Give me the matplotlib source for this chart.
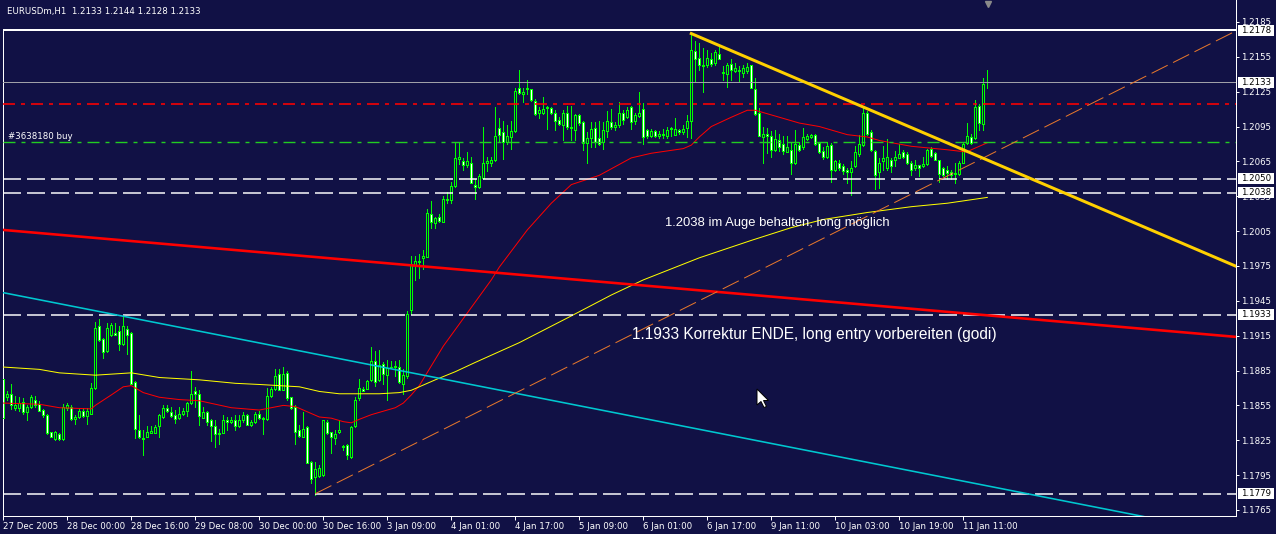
import matplotlib
matplotlib.use("Agg")
import matplotlib.pyplot as plt
from matplotlib.patches import Polygon, Rectangle
from matplotlib.transforms import IdentityTransform
import numpy as np

BG = "#111145"
LIME = "#00ff00"
PX = 0.72  # one screen pixel in points at 100 dpi

plt.rcParams["lines.scale_dashes"] = False
plt.rcParams["font.family"] = ["DejaVu Sans"]

# EURUSDm H1 candles, 27 Dec 2005 08:00 .. 11 Jan 2006 17:00
opens = [
    1.1878, 1.1862, 1.1865, 1.1853, 1.1853, 1.1858, 1.1849, 1.1854, 1.1860, 1.1856,
    1.1851, 1.1847, 1.1832, 1.1826, 1.1830, 1.1826, 1.1853, 1.1854, 1.1843, 1.1845,
    1.1850, 1.1846, 1.1848, 1.1870, 1.1923, 1.1912, 1.1902, 1.1916, 1.1917, 1.1919,
    1.1908, 1.1921, 1.1917, 1.1875, 1.1834, 1.1827, 1.1828, 1.1831, 1.1831, 1.1837,
    1.1845, 1.1853, 1.1849, 1.1847, 1.1844, 1.1848, 1.1850, 1.1857, 1.1867, 1.1865,
    1.1844, 1.1849, 1.1842, 1.1837, 1.1830, 1.1831, 1.1842, 1.1841, 1.1842, 1.1837,
    1.1842, 1.1847, 1.1838, 1.1841, 1.1848, 1.1843, 1.1843, 1.1863, 1.1869, 1.1882,
    1.1868, 1.1883, 1.1862, 1.1854, 1.1834, 1.1828, 1.1836, 1.1806, 1.1793, 1.1794,
    1.1795, 1.1841, 1.1832, 1.1827, 1.1832, 1.1820, 1.1821, 1.1811, 1.1837, 1.1861,
    1.1869, 1.1869, 1.1877, 1.1893, 1.1877, 1.1891, 1.1881, 1.1888, 1.1888, 1.1888,
    1.1873, 1.1880, 1.1937, 1.1976, 1.1978, 1.1982, 1.1983, 1.2020, 1.2012, 1.2017,
    1.2013, 1.2033, 1.2032, 1.2044, 1.2067, 1.2065, 1.2062, 1.2064, 1.2045, 1.2043,
    1.2051, 1.2064, 1.2064, 1.2066, 1.2094, 1.2090, 1.2082, 1.2086, 1.2091, 1.2128,
    1.2123, 1.2127, 1.2127, 1.2117, 1.2107, 1.2107, 1.2111, 1.2111, 1.2107, 1.2101,
    1.2096, 1.2107, 1.2095, 1.2092, 1.2105, 1.2099, 1.2081, 1.2085, 1.2094, 1.2085,
    1.2082, 1.2091, 1.2099, 1.2095, 1.2096, 1.2107, 1.2103, 1.2112, 1.2100, 1.2104,
    1.2110, 1.2092, 1.2087, 1.2091, 1.2087, 1.2089, 1.2087, 1.2093, 1.2088, 1.2092,
    1.2090, 1.2094, 1.2100, 1.2160, 1.2154, 1.2147, 1.2148, 1.2153, 1.2150, 1.2157,
    1.2141, 1.2140, 1.2149, 1.2143, 1.2144, 1.2141, 1.2143, 1.2148, 1.2127, 1.2107,
    1.2086, 1.2089, 1.2087, 1.2075, 1.2083, 1.2080, 1.2073, 1.2075, 1.2064, 1.2079,
    1.2077, 1.2084, 1.2086, 1.2088, 1.2081, 1.2074, 1.2069, 1.2079, 1.2058, 1.2064,
    1.2061, 1.2058, 1.2056, 1.2061, 1.2071, 1.2079, 1.2107, 1.2090, 1.2074, 1.2056,
    1.2065, 1.2059, 1.2066, 1.2066, 1.2068, 1.2073, 1.2071, 1.2064, 1.2059, 1.2062,
    1.2061, 1.2063, 1.2076, 1.2072, 1.2066, 1.2059, 1.2058, 1.2056, 1.2055, 1.2054,
    1.2064, 1.2081, 1.2086, 1.2085, 1.2113, 1.2097, 1.2133,
]
highs = [
    1.1880, 1.1867, 1.1873, 1.1863, 1.1862, 1.1861, 1.1855, 1.1864, 1.1863, 1.1859,
    1.1852, 1.1848, 1.1832, 1.1833, 1.1831, 1.1856, 1.1857, 1.1855, 1.1847, 1.1852,
    1.1853, 1.1853, 1.1874, 1.1927, 1.1929, 1.1913, 1.1926, 1.1926, 1.1926, 1.1923,
    1.1932, 1.1923, 1.1918, 1.1876, 1.1847, 1.1834, 1.1837, 1.1837, 1.1838, 1.1848,
    1.1855, 1.1855, 1.1854, 1.1851, 1.1854, 1.1853, 1.1858, 1.1885, 1.1871, 1.1868,
    1.1854, 1.1850, 1.1843, 1.1842, 1.1835, 1.1847, 1.1845, 1.1845, 1.1847, 1.1847,
    1.1849, 1.1848, 1.1842, 1.1849, 1.1850, 1.1845, 1.1870, 1.1871, 1.1886, 1.1886,
    1.1888, 1.1885, 1.1862, 1.1855, 1.1838, 1.1849, 1.1837, 1.1807, 1.1806, 1.1804,
    1.1842, 1.1842, 1.1832, 1.1834, 1.1842, 1.1821, 1.1822, 1.1837, 1.1862, 1.1878,
    1.1871, 1.1877, 1.1905, 1.1902, 1.1903, 1.1892, 1.1894, 1.1893, 1.1893, 1.1894,
    1.1886, 1.1936, 1.1984, 1.1984, 1.1985, 1.1989, 1.2024, 1.2031, 1.2017, 1.2020,
    1.2035, 1.2039, 1.2047, 1.2082, 1.2082, 1.2068, 1.2073, 1.2069, 1.2050, 1.2054,
    1.2095, 1.2069, 1.2069, 1.2112, 1.2102, 1.2100, 1.2096, 1.2100, 1.2128, 1.2144,
    1.2128, 1.2135, 1.2127, 1.2119, 1.2112, 1.2120, 1.2113, 1.2112, 1.2109, 1.2103,
    1.2109, 1.2113, 1.2113, 1.2106, 1.2106, 1.2100, 1.2090, 1.2099, 1.2099, 1.2100,
    1.2099, 1.2108, 1.2110, 1.2099, 1.2116, 1.2109, 1.2112, 1.2113, 1.2107, 1.2125,
    1.2115, 1.2093, 1.2093, 1.2092, 1.2091, 1.2093, 1.2095, 1.2095, 1.2102, 1.2093,
    1.2096, 1.2105, 1.2175, 1.2169, 1.2167, 1.2163, 1.2161, 1.2158, 1.2161, 1.2164,
    1.2147, 1.2150, 1.2153, 1.2150, 1.2147, 1.2148, 1.2150, 1.2148, 1.2137, 1.2111,
    1.2095, 1.2094, 1.2091, 1.2092, 1.2089, 1.2087, 1.2087, 1.2082, 1.2092, 1.2082,
    1.2094, 1.2089, 1.2089, 1.2089, 1.2082, 1.2077, 1.2082, 1.2081, 1.2066, 1.2066,
    1.2063, 1.2059, 1.2065, 1.2078, 1.2088, 1.2112, 1.2108, 1.2092, 1.2075, 1.2068,
    1.2078, 1.2084, 1.2068, 1.2074, 1.2080, 1.2075, 1.2073, 1.2065, 1.2066, 1.2062,
    1.2069, 1.2076, 1.2077, 1.2073, 1.2066, 1.2060, 1.2061, 1.2058, 1.2064, 1.2065,
    1.2082, 1.2098, 1.2089, 1.2118, 1.2114, 1.2137, 1.2144,
]
lows = [
    1.1843, 1.1860, 1.1852, 1.1851, 1.1850, 1.1848, 1.1842, 1.1853, 1.1854, 1.1850,
    1.1845, 1.1830, 1.1828, 1.1825, 1.1825, 1.1825, 1.1851, 1.1842, 1.1839, 1.1844,
    1.1845, 1.1839, 1.1848, 1.1869, 1.1910, 1.1896, 1.1901, 1.1915, 1.1916, 1.1903,
    1.1907, 1.1899, 1.1873, 1.1827, 1.1827, 1.1812, 1.1828, 1.1831, 1.1831, 1.1828,
    1.1844, 1.1849, 1.1845, 1.1840, 1.1843, 1.1847, 1.1846, 1.1856, 1.1854, 1.1838,
    1.1844, 1.1838, 1.1824, 1.1819, 1.1822, 1.1831, 1.1834, 1.1840, 1.1834, 1.1836,
    1.1841, 1.1838, 1.1837, 1.1840, 1.1843, 1.1830, 1.1842, 1.1862, 1.1868, 1.1868,
    1.1868, 1.1860, 1.1852, 1.1822, 1.1828, 1.1828, 1.1805, 1.1788, 1.1778, 1.1793,
    1.1794, 1.1830, 1.1814, 1.1822, 1.1831, 1.1817, 1.1809, 1.1810, 1.1836, 1.1860,
    1.1867, 1.1869, 1.1876, 1.1872, 1.1876, 1.1873, 1.1860, 1.1887, 1.1880, 1.1874,
    1.1865, 1.1879, 1.1934, 1.1963, 1.1965, 1.1972, 1.1983, 1.2008, 1.2008, 1.2013,
    1.2013, 1.2029, 1.2029, 1.2043, 1.2063, 1.2058, 1.2060, 1.2046, 1.2033, 1.2042,
    1.2050, 1.2057, 1.2061, 1.2065, 1.2082, 1.2067, 1.2080, 1.2076, 1.2090, 1.2123,
    1.2116, 1.2123, 1.2117, 1.2105, 1.2102, 1.2106, 1.2093, 1.2106, 1.2092, 1.2096,
    1.2083, 1.2093, 1.2083, 1.2083, 1.2096, 1.2075, 1.2064, 1.2077, 1.2077, 1.2079,
    1.2076, 1.2086, 1.2093, 1.2092, 1.2095, 1.2097, 1.2102, 1.2093, 1.2097, 1.2103,
    1.2080, 1.2085, 1.2086, 1.2086, 1.2085, 1.2085, 1.2085, 1.2087, 1.2088, 1.2089,
    1.2089, 1.2086, 1.2085, 1.2134, 1.2144, 1.2125, 1.2146, 1.2147, 1.2148, 1.2153,
    1.2135, 1.2129, 1.2135, 1.2142, 1.2134, 1.2138, 1.2141, 1.2128, 1.2105, 1.2087,
    1.2064, 1.2072, 1.2069, 1.2074, 1.2074, 1.2071, 1.2073, 1.2054, 1.2063, 1.2074,
    1.2076, 1.2083, 1.2085, 1.2079, 1.2072, 1.2067, 1.2068, 1.2047, 1.2057, 1.2058,
    1.2054, 1.2046, 1.2036, 1.2060, 1.2070, 1.2078, 1.2088, 1.2074, 1.2041, 1.2042,
    1.2058, 1.2058, 1.2056, 1.2061, 1.2068, 1.2068, 1.2063, 1.2053, 1.2058, 1.2052,
    1.2060, 1.2062, 1.2069, 1.2066, 1.2047, 1.2052, 1.2050, 1.2050, 1.2046, 1.2053,
    1.2064, 1.2080, 1.2080, 1.2084, 1.2092, 1.2092, 1.2128,
]
closes = [
    1.1844, 1.1865, 1.1855, 1.1855, 1.1857, 1.1849, 1.1854, 1.1862, 1.1855, 1.1850,
    1.1847, 1.1831, 1.1828, 1.1832, 1.1826, 1.1854, 1.1855, 1.1843, 1.1845, 1.1850,
    1.1846, 1.1850, 1.1870, 1.1922, 1.1911, 1.1901, 1.1922, 1.1924, 1.1916, 1.1908,
    1.1923, 1.1916, 1.1873, 1.1835, 1.1828, 1.1826, 1.1832, 1.1833, 1.1836, 1.1847,
    1.1853, 1.1850, 1.1846, 1.1843, 1.1848, 1.1850, 1.1857, 1.1865, 1.1865, 1.1846,
    1.1849, 1.1841, 1.1837, 1.1830, 1.1831, 1.1842, 1.1841, 1.1842, 1.1837, 1.1842,
    1.1847, 1.1838, 1.1841, 1.1848, 1.1844, 1.1844, 1.1863, 1.1869, 1.1880, 1.1868,
    1.1882, 1.1861, 1.1853, 1.1832, 1.1829, 1.1835, 1.1805, 1.1792, 1.1800, 1.1801,
    1.1842, 1.1831, 1.1828, 1.1830, 1.1834, 1.1819, 1.1812, 1.1836, 1.1860, 1.1870,
    1.1867, 1.1876, 1.1893, 1.1875, 1.1890, 1.1882, 1.1887, 1.1888, 1.1889, 1.1875,
    1.1881, 1.1934, 1.1977, 1.1979, 1.1979, 1.1984, 1.2021, 1.2013, 1.2016, 1.2014,
    1.2033, 1.2032, 1.2044, 1.2068, 1.2069, 1.2062, 1.2065, 1.2046, 1.2043, 1.2052,
    1.2064, 1.2065, 1.2066, 1.2087, 1.2088, 1.2082, 1.2087, 1.2091, 1.2126, 1.2124,
    1.2125, 1.2128, 1.2118, 1.2106, 1.2109, 1.2110, 1.2112, 1.2107, 1.2100, 1.2097,
    1.2107, 1.2095, 1.2094, 1.2105, 1.2098, 1.2081, 1.2085, 1.2093, 1.2082, 1.2080,
    1.2092, 1.2100, 1.2095, 1.2096, 1.2107, 1.2101, 1.2109, 1.2099, 1.2105, 1.2107,
    1.2086, 1.2087, 1.2091, 1.2087, 1.2089, 1.2088, 1.2092, 1.2094, 1.2093, 1.2090,
    1.2093, 1.2100, 1.2161, 1.2153, 1.2148, 1.2148, 1.2154, 1.2149, 1.2159, 1.2153,
    1.2142, 1.2148, 1.2144, 1.2145, 1.2143, 1.2145, 1.2146, 1.2128, 1.2106, 1.2087,
    1.2089, 1.2087, 1.2075, 1.2084, 1.2077, 1.2074, 1.2077, 1.2064, 1.2080, 1.2075,
    1.2086, 1.2087, 1.2088, 1.2080, 1.2073, 1.2069, 1.2078, 1.2058, 1.2065, 1.2059,
    1.2057, 1.2056, 1.2059, 1.2073, 1.2080, 1.2107, 1.2089, 1.2075, 1.2053, 1.2064,
    1.2068, 1.2069, 1.2061, 1.2069, 1.2071, 1.2069, 1.2064, 1.2058, 1.2062, 1.2059,
    1.2063, 1.2075, 1.2070, 1.2066, 1.2054, 1.2053, 1.2055, 1.2053, 1.2054, 1.2064,
    1.2080, 1.2087, 1.2081, 1.2112, 1.2098, 1.2132, 1.2133,
]

# time axis labels every 16 bars
tick_bars = list(range(0, 241, 16))
tick_labels = ["27 Dec 2005", "28 Dec 00:00", "28 Dec 16:00", "29 Dec 08:00",
               "30 Dec 00:00", "30 Dec 16:00", "3 Jan 09:00", "4 Jan 01:00",
               "4 Jan 17:00", "5 Jan 09:00", "6 Jan 01:00", "6 Jan 17:00",
               "9 Jan 11:00", "10 Jan 03:00", "10 Jan 19:00", "11 Jan 11:00"]

price_ticks = [1.2185, 1.2155, 1.2125, 1.2095, 1.2065, 1.2035, 1.2005, 1.1975,
               1.1945, 1.1915, 1.1885, 1.1855, 1.1825, 1.1795, 1.1765]

# moving averages, sampled from the chart
red_ma_bars = [0, 9, 14, 22, 23, 27, 30, 32, 35, 39, 44, 49, 53, 57, 64, 67, 70, 73,
               75, 79, 82, 85, 87, 89, 92, 95, 98, 100, 102, 104, 110, 118, 122, 124,
               131, 137, 142, 149, 157, 162, 170, 172, 174, 177, 182, 186, 188, 192,
               199, 204, 211, 216, 219, 227, 236, 241, 242, 246]
red_ma_vals = [1.1857, 1.1856, 1.1853, 1.1852, 1.1855, 1.1864, 1.1871, 1.1872, 1.1866,
               1.1862, 1.1860, 1.1859, 1.1856, 1.1853, 1.1851, 1.1853, 1.1855, 1.1854,
               1.1851, 1.1845, 1.1844, 1.1841, 1.1840, 1.1843, 1.1847, 1.1850, 1.1853,
               1.1857, 1.1864, 1.1872, 1.1906, 1.1944, 1.1963, 1.1974, 1.2006, 1.2029,
               1.2045, 1.2053, 1.2068, 1.2072, 1.2076, 1.2079, 1.2086, 1.2095, 1.2103,
               1.2109, 1.2109, 1.2105, 1.2098, 1.2095, 1.2088, 1.2086, 1.2083, 1.2078,
               1.2075, 1.2073, 1.2075, 1.2081]
yel_ma_bars = [0, 9, 14, 23, 32, 39, 49, 58, 64, 69, 74, 79, 84, 89, 94, 99, 102, 104,
               108, 113, 118, 129, 142, 152, 160, 174, 187, 197, 205, 216, 227, 236, 246]
yel_ma_vals = [1.1888, 1.1886, 1.1883, 1.1881, 1.1883, 1.1879, 1.1877, 1.1874, 1.1873,
               1.1872, 1.1871, 1.1867, 1.1865, 1.1865, 1.1865, 1.1866, 1.1868, 1.1871,
               1.1877, 1.1884, 1.1892, 1.1909, 1.1932, 1.1950, 1.1963, 1.1982, 1.1997,
               1.2008, 1.2015, 1.2021, 1.2026, 1.2029, 1.2034]

# drawn objects: (bar, price) anchor pairs
gold_bars, gold_prices = [172, 308], [1.2175, 1.1975]
red_tl_bars, red_tl_prices = [0, 308], [1.2006, 1.1914]
cyan_bars, cyan_prices = [0, 290], [1.1952, 1.1756]
orange_bars, orange_prices = [78, 308], [1.1779, 1.2177]

top_level = 1.2178
bid_level = 1.2133
tp_level = 1.2114
order_level = 1.2082
dashed_levels = [1.2050, 1.2038, 1.1933, 1.1779]
label_levels = [1.2178, 1.2133, 1.2050, 1.2038, 1.1933, 1.1779]

title = "EURUSDm,H1  1.2133 1.2144 1.2128 1.2133"
order_text = "#3638180 buy"
note_1 = "1.2038 im Auge behalten, long möglich"
note_2 = "1.1933 Korrektur ENDE, long entry vorbereiten (godi)"

o = np.array(opens)
h = np.array(highs)
l = np.array(lows)
c = np.array(closes)
bars = np.arange(len(c))

fig = plt.figure(figsize=(12.76, 5.34), dpi=100, facecolor=BG)
ax = fig.add_axes([3 / 1276, 18 / 534, 1233 / 1276, 516 / 534], facecolor=BG)
ax.set_xlim(-0.075, 308.175)
ylo, yhi = 1.17598, 1.22039
ax.set_ylim(ylo, yhi)
ppx = (yhi - ylo) / 516  # price per pixel

# candles
ax.vlines(bars, l, h, colors=LIME, linewidth=PX, antialiased=False, zorder=2)
fills = ["white" if cc < oo else BG for oo, cc in zip(o, c)]
ax.bar(bars, np.abs(c - o), bottom=np.minimum(o, c), width=0.5, color=fills,
       edgecolor=LIME, linewidth=PX, antialiased=False, zorder=3)

# indicators
ax.plot(red_ma_bars, red_ma_vals, color="#ff0000", lw=PX, zorder=4)
ax.plot(yel_ma_bars, yel_ma_vals, color="#ffff00", lw=PX, zorder=4)

# horizontal lines
dashdot = (0, (12 * PX, 6 * PX, 4 * PX, 6 * PX))
dash = (0, (18 * PX, 6 * PX))
ax.axhline(top_level, color="white", lw=2 * PX, zorder=5)
ax.axhline(bid_level, color="#a0a0a8", lw=PX, zorder=5)
ax.axhline(tp_level, color="#ff0000", lw=1.6 * PX, linestyle=dashdot, zorder=5)
ax.axhline(order_level, color="#22cc22", lw=1.4 * PX, linestyle=dashdot, zorder=5)
for lv in dashed_levels:
    ax.axhline(lv, color="white", lw=1.5 * PX, linestyle=dash, zorder=5)

# trend lines
ax.plot(red_tl_bars, red_tl_prices, color="#ff0000", lw=2.6 * PX, zorder=6)
ax.plot(cyan_bars, cyan_prices, color="#00c8d0", lw=1.6 * PX, zorder=6)
ax.plot(orange_bars, orange_prices, color="#e8782c", lw=PX, linestyle=dash, zorder=6)
ax.plot(gold_bars, gold_prices, color="#ffd000", lw=3 * PX, zorder=6)

# axes styling
for side in ["left", "bottom", "right"]:
    ax.spines[side].set_color("white")
    ax.spines[side].set_linewidth(PX)
ax.spines["top"].set_visible(False)
ax.spines["left"].set_bounds(ylo, top_level)

ax.yaxis.tick_right()
ax.set_yticks(price_ticks, labels=[f"{p:.4f}" for p in price_ticks])
ax.tick_params(axis="y", direction="out", length=3 * PX, width=PX, colors="white",
               labelsize=6.2, pad=2.5 * PX)
ax.set_xticks(tick_bars, labels=tick_labels)
ax.tick_params(axis="x", direction="out", length=4 * PX, width=PX, colors="white",
               labelsize=6.2, pad=1.5)
for lbl in ax.get_xticklabels():
    lbl.set_horizontalalignment("left")

# price labels on the right axis
ytr = ax.get_yaxis_transform()
for lv in label_levels:
    ax.add_patch(Rectangle((1 + 2 / 1233, lv - 5.5 * ppx), 36 / 1233, 11 * ppx,
                           transform=ytr, facecolor="white", edgecolor="none",
                           clip_on=False, zorder=9))
    ax.text(1 + 5 / 1233, lv, f"{lv:.4f}", transform=ytr, ha="left", va="center",
            fontsize=6.2, color="black", zorder=10, clip_on=False)

# texts
ax.text(4 / 1233, 1 - 14 / 516, title, transform=ax.transAxes, ha="left",
        va="baseline", fontsize=6.2, color="white", zorder=10)
ax.text(1.2, order_level + 2.5 * ppx, order_text, ha="left", va="baseline",
        fontsize=6.2, color="white", zorder=10)
ax.text(165.4, 1.2009, note_1, ha="left", va="baseline", fontsize=9.4,
        family="Liberation Sans", color="white", zorder=10)
ax.text(157.2, 1.1912, note_2, ha="left", va="baseline", fontsize=11.2,
        family="Liberation Sans", color="white", zorder=10)

# chart shift marker
ax.plot([len(c) - 1 + 0.2], [1 - 4 / 516], marker="v", ms=4.5, color="#8a8a8a",
        transform=ax.get_xaxis_transform(), clip_on=False, zorder=10)

# mouse cursor
shape = [(0, 0), (0, 16), (4, 12.5), (7, 18.5), (9.5, 17.5), (6.5, 11.5), (11.5, 11.5)]
pts = [(757 + dx, 534 - 389 - dy) for dx, dy in shape]
fig.patches.append(Polygon(pts, closed=True, transform=IdentityTransform(),
                           facecolor="white", edgecolor="black", lw=0.7))

fig.savefig("out.png", dpi=100, facecolor=BG)
